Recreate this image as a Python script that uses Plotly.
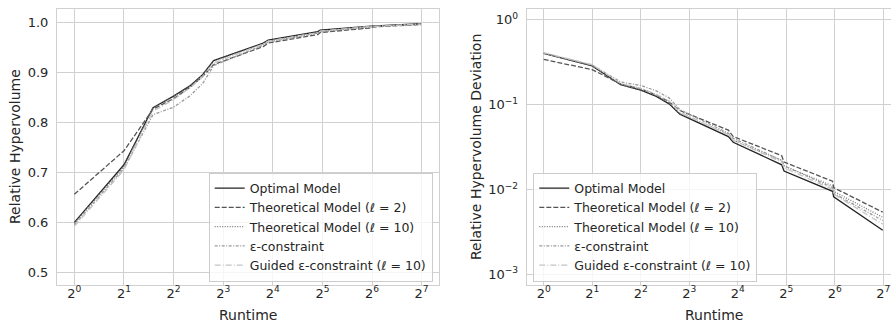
import math
import plotly.graph_objects as go

# ---------------- data ----------------
runtime = [1, 2, 3, 4, 5, 6, 7, 14, 15, 30, 31, 62, 63, 127]

series_names = [
    "Optimal Model",
    "Theoretical Model (ℓ = 2)",
    "Theoretical Model (ℓ = 10)",
    "ε-constraint",
    "Guided ε-constraint (ℓ = 10)",
]

hv_optimal = [0.600, 0.715, 0.829, 0.852, 0.872, 0.895, 0.923, 0.958, 0.964, 0.981, 0.984, 0.991, 0.992, 0.997]
hv_theo2 = [0.656, 0.743, 0.826, 0.847, 0.869, 0.891, 0.915, 0.951, 0.958, 0.975, 0.979, 0.988, 0.990, 0.995]
hv_theo10 = [0.598, 0.712, 0.828, 0.851, 0.871, 0.894, 0.922, 0.956, 0.962, 0.978, 0.981, 0.989, 0.991, 0.995]
hv_eps = [0.595, 0.708, 0.815, 0.830, 0.852, 0.877, 0.913, 0.954, 0.960, 0.978, 0.981, 0.990, 0.991, 0.996]
hv_guided = [0.592, 0.705, 0.822, 0.845, 0.868, 0.890, 0.918, 0.956, 0.962, 0.979, 0.982, 0.990, 0.991, 0.996]

dev_optimal = [0.400, 0.285, 0.172, 0.148, 0.125, 0.102, 0.077, 0.042, 0.036, 0.0195, 0.0165, 0.0095, 0.0082, 0.0033]
dev_theo2 = [0.340, 0.258, 0.175, 0.153, 0.130, 0.108, 0.085, 0.050, 0.042, 0.025, 0.021, 0.0125, 0.0105, 0.0054]
dev_theo10 = [0.402, 0.288, 0.172, 0.149, 0.127, 0.104, 0.078, 0.045, 0.038, 0.022, 0.019, 0.011, 0.0095, 0.0047]
dev_eps = [0.405, 0.292, 0.185, 0.168, 0.145, 0.120, 0.087, 0.046, 0.040, 0.022, 0.019, 0.0105, 0.0090, 0.0043]
dev_guided = [0.408, 0.295, 0.178, 0.155, 0.132, 0.110, 0.082, 0.044, 0.038, 0.021, 0.018, 0.0100, 0.0088, 0.0039]

x_tickvals = [1, 2, 4, 8, 16, 32, 64, 128]
x_ticktext = ["2<sup>%d</sup>" % i for i in range(8)]
y1_tickvals = [0.5, 0.6, 0.7, 0.8, 0.9, 1.0]
y2_tickvals = [0.001, 0.01, 0.1, 1]
y2_ticktext = ["10<sup>−3</sup>", "10<sup>−2</sup>", "10<sup>−1</sup>", "10<sup>0</sup>"]

# ---------------- styles ----------------
colors = ["#222222", "#555555", "#777777", "#9a9a9a", "#c4c4c4"]
dashes = ["solid", "5px,2px", "1px,1.5px", "3px,1.5px,1px,1.5px", "6px,2px,1px,2px"]
TXT = "#262626"
GRID = "#d0d0d0"
FONT = "DejaVu Sans"

fig = go.Figure()

hv_all = [hv_optimal, hv_theo2, hv_theo10, hv_eps, hv_guided]
dev_all = [dev_optimal, dev_theo2, dev_theo10, dev_eps, dev_guided]

for i in range(5):
    fig.add_trace(go.Scatter(
        x=runtime, y=hv_all[i], name=series_names[i], mode="lines",
        line=dict(color=colors[i], width=1.3, dash=dashes[i]),
        xaxis="x", yaxis="y", legend="legend"))
for i in range(5):
    fig.add_trace(go.Scatter(
        x=runtime, y=dev_all[i], name=series_names[i], mode="lines",
        line=dict(color=colors[i], width=1.3, dash=dashes[i]),
        xaxis="x2", yaxis="y2", legend="legend2"))

W, H = 891, 329
l_dom = [57 / W, 439 / W]
r_dom = [526.7 / W, 1.0]
y_dom = [1 - 285 / H, 1 - 9 / H]
lg2 = math.log10(2)

common_x = dict(
    type="log", tickvals=x_tickvals, ticktext=x_ticktext,
    showgrid=True, gridcolor=GRID, gridwidth=1,
    showline=True, linecolor=GRID, linewidth=1, mirror=True,
    ticks="", ticklabelstandoff=-4,
    tickfont=dict(family=FONT, size=13, color=TXT), zeroline=False,
)
common_y = dict(
    showgrid=True, gridcolor=GRID, showline=True, linecolor=GRID,
    ticks="", ticklabelstandoff=5, zeroline=False,
    tickfont=dict(family=FONT, size=13, color=TXT),
)
legend_style = dict(
    bgcolor="rgba(255,255,255,0.8)", bordercolor="#cccccc", borderwidth=1,
    font=dict(family=FONT, size=12.5, color=TXT), tracegroupgap=0,
)

fig.update_layout(
    width=W, height=H,
    margin=dict(l=0, r=0, t=0, b=0),
    paper_bgcolor="white", plot_bgcolor="white",
    font=dict(family=FONT, color=TXT),
    xaxis=dict(domain=l_dom, anchor="y", range=[-0.35 * lg2, 7.35 * lg2], **common_x),
    xaxis2=dict(domain=r_dom, anchor="y2", range=[-0.35 * lg2, 7.159 * lg2], **common_x),
    yaxis=dict(domain=y_dom, anchor="x", range=[0.475, 1.026],
               tickvals=y1_tickvals, tickformat=".1f", mirror=True, **common_y),
    yaxis2=dict(domain=y_dom, anchor="x2", type="log", range=[-3.126, 0.126],
                tickvals=y2_tickvals, ticktext=y2_ticktext, mirror=False, **common_y),
    legend=dict(x=432.7 / W, xanchor="right", y=1 - 281.5 / H, yanchor="bottom", **legend_style),
    legend2=dict(x=533.3 / W, xanchor="left", y=1 - 281.5 / H, yanchor="bottom", **legend_style),
    showlegend=True,
)

annots = [
    dict(text="Runtime", x=248 / W, y=1 - 315 / H),
    dict(text="Runtime", x=713.8 / W, y=1 - 315 / H),
    dict(text="Relative Hypervolume", x=15 / W, y=(y_dom[0] + y_dom[1]) / 2, textangle=-90),
    dict(text="Relative Hypervolume Deviation", x=476 / W, y=(y_dom[0] + y_dom[1]) / 2, textangle=-90),
]
for a in annots:
    fig.add_annotation(xref="paper", yref="paper", showarrow=False,
                       xanchor="center", yanchor="middle",
                       font=dict(family=FONT, size=14, color=TXT), **a)

fig.write_html(
    "out.html",
    config={"displayModeBar": False},
    post_script="document.body.style.margin='0';document.body.style.padding='0';"
                "document.documentElement.style.overflow='hidden';",
)
